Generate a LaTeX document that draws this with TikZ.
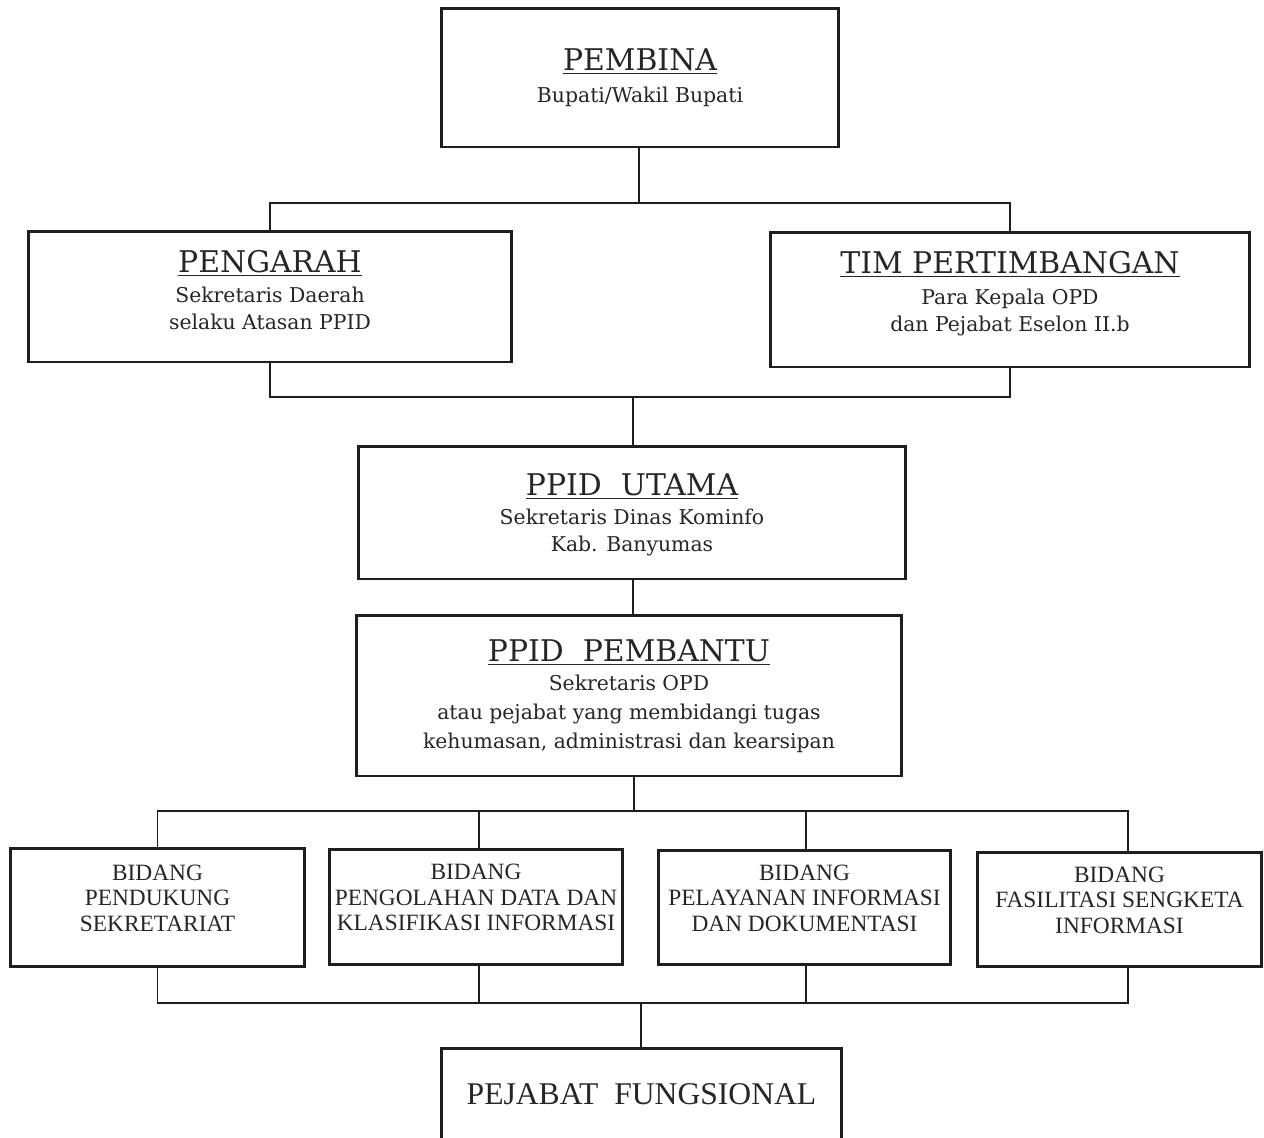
\documentclass[tikz,border=0pt]{standalone}
\usepackage{fontspec}
\setmainfont{Liberation Serif}
\newfontfamily\dvserif{DejaVu Serif}
\definecolor{ink}{HTML}{1E1E1E}
\definecolor{txt}{HTML}{262626}
\newcommand\ttlfont{\fontsize{17}{20}\selectfont}
\newcommand\subfont{\dvserif\fontsize{11.6}{15.4}\selectfont}
\newcommand\bidfont{\fontsize{13.3}{14.5}\selectfont}
\newcommand\ttl[1]{{\ttlfont\underline{#1}}}
\begin{document}
\begin{tikzpicture}[x=0.02cm,y=-0.02cm,
  box/.style={draw=ink, line width=1.7pt, align=center, inner sep=0pt, text=txt, font=\subfont},
  bid/.style={box, font=\bidfont},
  conn/.style={draw=ink, line width=1.1pt}]
\useasboundingbox (0,0) rectangle (1264,1137);
\fill[white] (0,0) rectangle (1264,1137);
% boxes
\node[box, minimum width=7.96cm, minimum height=2.78cm] (pembina) at (640,77.5)
  {\ttl{PEMBINA}\\[3pt]Bupati/Wakil Bupati};
\node[box, minimum width=9.68cm, minimum height=2.62cm] (pengarah) at (270,296.5)
  {\ttl{PENGARAH}\\[2pt]Sekretaris Daerah\\selaku Atasan PPID\\[-8pt]};
\node[box, minimum width=9.6cm, minimum height=2.7cm] (tim) at (1010,299.5)
  {\ttl{TIM PERTIMBANGAN}\\[2pt]Para Kepala OPD\\dan Pejabat Eselon II.b\\[-6pt]};
\node[box, minimum width=10.96cm, minimum height=2.66cm] (utama) at (632,512.5)
  {\ttl{PPID\ \ UTAMA}\\[1pt]Sekretaris Dinas Kominfo\\Kab. Banyumas\\[-15.4pt]};
\node[box, minimum width=10.92cm, minimum height=3.22cm] (pembantu) at (629,695.5)
  {\ttl{PPID\ \ PEMBANTU}\\[1pt]Sekretaris OPD\\[1pt]atau pejabat yang membidangi tugas\\[1pt]kehumasan, administrasi dan kearsipan\\[-14pt]};
\node[bid, minimum width=5.9cm, minimum height=2.36cm] (b1) at (157.5,907)
  {BIDANG\\PENDUKUNG\\SEKRETARIAT\\[-4.5pt]};
\node[bid, minimum width=5.88cm, minimum height=2.3cm] (b2) at (476,906.5)
  {BIDANG\\PENGOLAHAN DATA DAN\\KLASIFIKASI INFORMASI\\[-4.5pt]};
\node[bid, minimum width=5.86cm, minimum height=2.28cm] (b3) at (804.5,907)
  {BIDANG\\PELAYANAN INFORMASI\\DAN DOKUMENTASI\\[-4.5pt]};
\node[bid, minimum width=5.7cm, minimum height=2.28cm] (b4) at (1119.5,909)
  {BIDANG\\FASILITASI SENGKETA\\INFORMASI\\[-4.5pt]};
\node[box, font=\fontsize{18}{20}\selectfont, minimum width=8.02cm, minimum height=1.84cm] (pejabat) at (641.5,1094)
  {PEJABAT\ \ FUNGSIONAL};
% connectors
\coordinate (bus1) at (639,203);
\coordinate (bus2) at (633,397);
\coordinate (bus3) at (634,811);
\coordinate (bus4) at (641,1003);
\coordinate (d2) at (479,0);
\coordinate (d3) at (806,0);
\coordinate (d4) at (1128,0);
\draw[conn] (pembina.south -| bus1) -- (bus1);
\draw[conn] (pengarah.north) |- (bus1) -| (tim.north);
\draw[conn] (pengarah.south) |- (bus2) -| (tim.south);
\draw[conn] (bus2) -- (bus2 |- utama.north);
\draw[conn] (utama.south -| bus2) -- (bus2 |- pembantu.north);
\draw[conn] (pembantu.south -| bus3) -- (bus3);
\draw[conn] (b1.north) |- (bus3) -| (b4.north -| d4);
\draw[conn] (b2.north -| d2) -- (bus3 -| d2);
\draw[conn] (b3.north -| d3) -- (bus3 -| d3);
\draw[conn] (b1.south) |- (bus4) -| (b4.south -| d4);
\draw[conn] (b2.south -| d2) -- (bus4 -| d2);
\draw[conn] (b3.south -| d3) -- (bus4 -| d3);
\draw[conn] (bus4) -- (bus4 |- pejabat.north);
\end{tikzpicture}
\end{document}
